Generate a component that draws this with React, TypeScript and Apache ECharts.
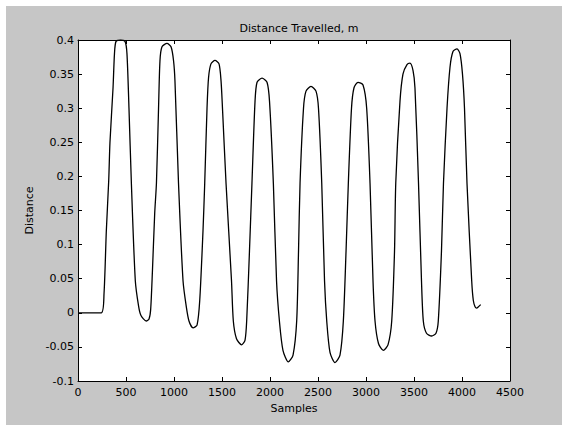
import React, { useEffect, useRef } from "react";
import * as echarts from "echarts";

const titleText = "Distance Travelled, m";
const xLabel = "Samples";
const yLabel = "Distance";

const samples = [
  0, 243, 271, 295, 320, 333, 365, 380, 396, 443, 490, 510, 531, 556, 597, 632, 656, 711, 740, 757, 775, 799, 817,
  839, 854, 875, 927, 969, 995, 1010, 1047, 1094, 1128, 1156, 1198, 1240, 1268, 1302, 1320,
  1344, 1360, 1385, 1427, 1469, 1490, 1505, 1542, 1599, 1618, 1651, 1705, 1740, 1757, 1786, 1812,
  1844, 1865, 1917, 1969, 1995, 2035, 2068, 2098, 2135, 2191, 2240, 2278, 2297, 2313,
  2349, 2375, 2427, 2479, 2505, 2539, 2568, 2591, 2625, 2677, 2729, 2764, 2792, 2816,
  2849, 2875, 2917, 2969, 3007, 3042, 3073, 3094, 3130, 3180, 3229, 3268, 3297, 3310,
  3354, 3385, 3427, 3458, 3490, 3510, 3547, 3578, 3597, 3630, 3684, 3729, 3753, 3786, 3807,
  3844, 3875, 3906, 3948, 3979, 4005, 4026, 4052, 4101, 4118, 4136, 4153, 4172, 4195,
];

const distance = [
  0, 0, 0.028, 0.12, 0.194, 0.25, 0.33, 0.38, 0.398, 0.4, 0.398, 0.38, 0.3, 0.19, 0.047, 0.009, -0.004, -0.012, -0.009, 0.005, 0.06, 0.146, 0.19,
  0.3, 0.37, 0.39, 0.395, 0.39, 0.37, 0.34, 0.19, 0.047, 0.009, -0.012, -0.022, -0.018, 0.018, 0.12, 0.19,
  0.3, 0.345, 0.365, 0.37, 0.365, 0.34, 0.3, 0.19, 0.047, -0.012, -0.038, -0.047, -0.04, -0.012, 0.09, 0.19,
  0.31, 0.338, 0.344, 0.338, 0.31, 0.19, 0.047, -0.012, -0.055, -0.072, -0.062, -0.012, 0.09, 0.19,
  0.3, 0.325, 0.332, 0.325, 0.3, 0.19, 0.047, -0.012, -0.058, -0.073, -0.062, -0.012, 0.09, 0.19,
  0.3, 0.33, 0.338, 0.334, 0.3, 0.19, 0.047, -0.012, -0.045, -0.055, -0.047, -0.012, 0.09, 0.19,
  0.31, 0.35, 0.364, 0.366, 0.355, 0.33, 0.19, 0.047, -0.012, -0.03, -0.034, -0.03, -0.012, 0.09, 0.19,
  0.3, 0.36, 0.383, 0.387, 0.38, 0.35, 0.3, 0.19, 0.047, 0.018, 0.009, 0.007, 0.009, 0.012,
];

const xTicks = { min: 0, max: 4500, interval: 500 };
const yTicks = { min: -0.1, max: 0.4, interval: 0.05 };

const FONT = "DejaVu Sans, Liberation Sans, sans-serif";

export default function App() {
  const ref = useRef<HTMLDivElement>(null);
  useEffect(() => {
    if (!ref.current) return;
    const chart = echarts.init(ref.current, undefined, { renderer: "svg" });
    const pts = samples.map((s, i) => [s, distance[i]]);
    const axisLine = { show: true, onZero: false, lineStyle: { color: "#000", width: 1 } };
    const axisTick = { show: true, inside: true, length: 4, lineStyle: { color: "#000" } };
    const label = { color: "#000", fontFamily: FONT, fontSize: 11 };
    chart.setOption({
      animation: false,
      backgroundColor: "#ffffff",
      graphic: [
        {
          type: "rect",
          z: -10,
          silent: true,
          shape: { x: 6, y: 6, width: 560, height: 420 },
          style: { fill: "#c6c6c6" },
        },
      ],
      title: {
        text: titleText,
        left: 294,
        top: 18,
        textAlign: "center",
        textStyle: { color: "#000", fontFamily: FONT, fontSize: 11, fontWeight: "normal" },
      },
      grid: { left: 78, right: 52, top: 40, bottom: 44, show: true, backgroundColor: "#ffffff", borderWidth: 0 },
      xAxis: [
        {
          type: "value",
          position: "bottom",
          ...xTicks,
          name: xLabel,
          nameLocation: "middle",
          nameGap: 22,
          nameTextStyle: { ...label },
          axisLine,
          axisTick,
          axisLabel: { ...label, margin: 6, formatter: (v: number) => String(v) },
          splitLine: { show: false },
        },
        {
          type: "value",
          position: "top",
          ...xTicks,
          axisLine,
          axisTick,
          axisLabel: { show: false },
          splitLine: { show: false },
        },
      ],
      yAxis: [
        {
          type: "value",
          position: "left",
          ...yTicks,
          name: yLabel,
          nameLocation: "middle",
          nameGap: 38,
          nameTextStyle: { ...label },
          axisLine,
          axisTick,
          axisLabel: { ...label, margin: 4, formatter: (v: number) => String(+v.toFixed(2)) },
          splitLine: { show: false },
        },
        {
          type: "value",
          position: "right",
          ...yTicks,
          axisLine,
          axisTick,
          axisLabel: { show: false },
          splitLine: { show: false },
        },
      ],
      series: [
        {
          type: "line",
          data: pts,
          xAxisIndex: 0,
          yAxisIndex: 0,
          showSymbol: false,
          smooth: 0.25,
          lineStyle: { color: "#000", width: 1.3 },
        },
      ],
    });
    return () => chart.dispose();
  }, []);
  return <div ref={ref} style={{ position: "fixed", left: 0, top: 0, width: 562, height: 425 }} />;
}
